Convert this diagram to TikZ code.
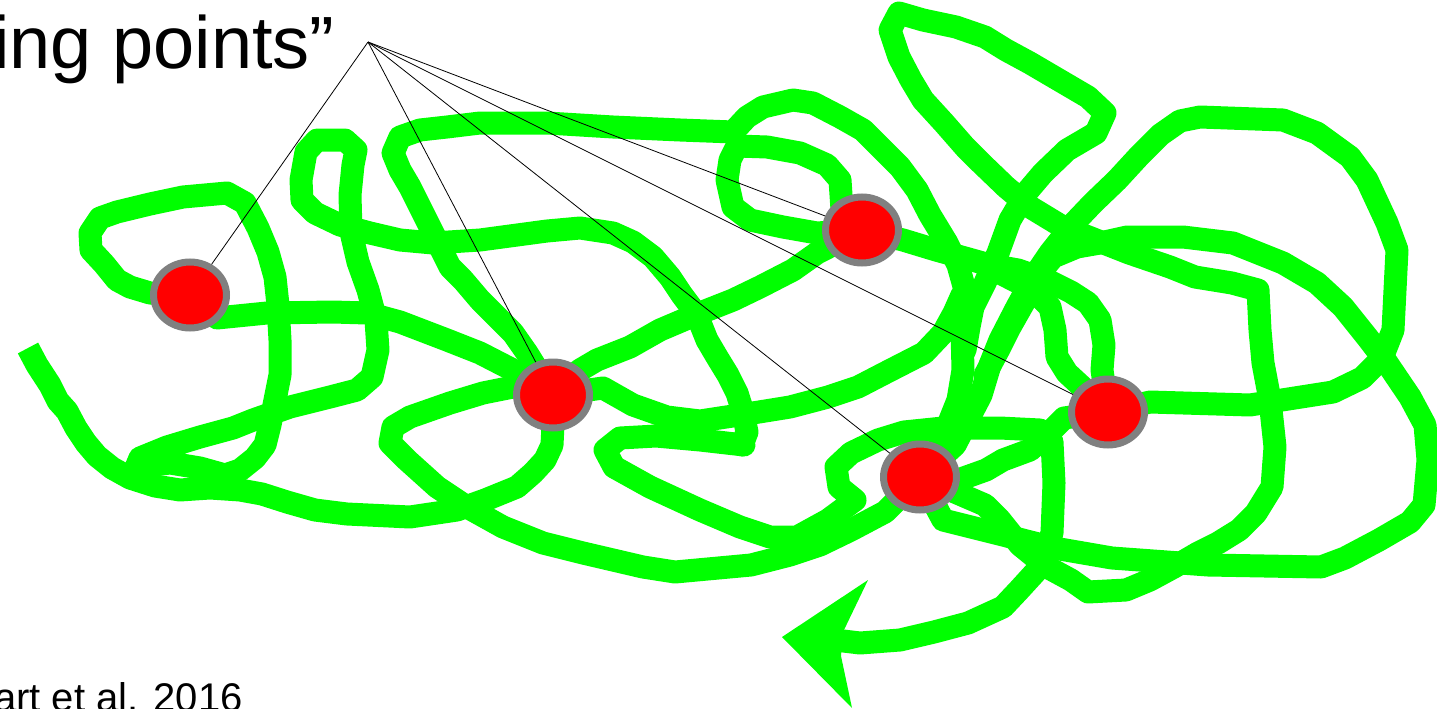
\documentclass[tikz,border=0pt]{standalone}
\usepackage{fontspec}
\setmainfont{Liberation Sans}
\usetikzlibrary{shapes.geometric}
\definecolor{scribblegreen}{RGB}{0,255,0}
\definecolor{rimgray}{RGB}{128,128,128}

\tikzstyle{scribble} = [draw=scribblegreen, line width=23pt, line join=round, line cap=round]
\tikzstyle{spot} = [ellipse, fill=red, draw=rimgray, line width=7pt, minimum width=73pt, minimum height=66pt, inner sep=0pt]
\tikzstyle{pointer} = [draw=black, line width=0.8pt]

\begin{document}
\begin{tikzpicture}[x=1pt, y=-1pt]
\clip (0,0) rectangle (1437,709);
\fill[white] (0,0) rectangle (1437,709);

% crossing points
\coordinate (p1) at (190,295);
\coordinate (p2) at (553,395);
\coordinate (p3) at (862,230);
\coordinate (p4) at (920,477);
\coordinate (p5) at (1108,412);

% the scribble
\draw[scribble, line cap=butt] (28,348) -- (37,365) -- (50,385) -- (58,401) -- (67,411) -- (76,428) -- (86,443)
    -- (97,456) -- (112,468) -- (130,478) -- (155,486) -- (180,490) -- (210,488) -- (240,490)
    -- (262,494) -- (287,502) -- (315,510) -- (347,514) -- (410,517) -- (457,510) -- (485,500)
    -- (517,487) -- (533,473) -- (545,460) -- (552,445) -- (553,425) -- (p2);
\draw[scribble] (p1) -- (150,293) -- (130,287) -- (117,280) -- (104,264) -- (91,250) -- (90,233)
    -- (100,218) -- (117,212) -- (150,204) -- (183,197) -- (227,193) -- (245,203) -- (258,228)
    -- (268,252) -- (275,277) -- (278,305) -- (280,340) -- (280,375) -- (275,400) -- (270,425)
    -- (265,445) -- (255,458) -- (240,470) -- (225,475) -- (200,468) -- (170,463) -- (145,466)
    -- (135,470) -- (140,458) -- (167,447) -- (200,437) -- (233,428) -- (253,420) -- (290,407)
    -- (330,397) -- (357,390) -- (372,377) -- (378,350) -- (376,320) -- (368,290) -- (358,262)
    -- (351,232) -- (350,195) -- (353,165) -- (356,150) -- (345,140) -- (317,140) -- (306,152)
    -- (301,180) -- (302,200) -- (315,213) -- (340,225) -- (370,233) -- (400,240) -- (433,243)
    -- (480,240) -- (547,231) -- (580,228) -- (613,233) -- (633,242) -- (653,257) -- (670,277)
    -- (682,295) -- (697,315) -- (707,340) -- (717,357) -- (728,375) -- (737,393) -- (743,412)
    -- (747,432) -- (742,445);
\draw[scribble] (p1) -- (217,318) -- (267,313) -- (333,312) -- (367,313) -- (400,322) -- (447,340)
    -- (480,353) -- (513,370) -- (537,382) -- (p2);
\draw[scribble] (p2) -- (603,388) -- (633,405) -- (667,417) -- (700,421) -- (759,412) -- (790,407)
    -- (828,397) -- (858,387) -- (885,373) -- (924,353) -- (943,333) -- (954,313) -- (962,295);
\draw[scribble] (p2) -- (527,353) -- (513,333) -- (497,317) -- (480,300) -- (463,280) -- (450,267)
    -- (440,247) -- (430,227) -- (420,207) -- (410,187) -- (400,170) -- (393,153) -- (400,137)
    -- (420,130) -- (447,127) -- (480,123) -- (547,123) -- (613,127) -- (680,130) -- (733,132)
    -- (747,117) -- (763,107) -- (793,100) -- (813,103) -- (840,117) -- (863,130) -- (880,147)
    -- (900,167) -- (917,190) -- (930,215) -- (947,243) -- (958,265) -- (965,290) -- (962,330)
    -- (963,370) -- (958,400) -- (948,425) -- (935,455) -- (p4);
\draw[scribble] (p3) -- (817,233) -- (783,227) -- (750,220) -- (733,207) -- (727,180) -- (730,160)
    -- (737,146) -- (767,147) -- (800,153) -- (827,165) -- (840,180) -- (842,210) -- (p3);
\draw[scribble] (p3) -- (817,253) -- (793,270) -- (760,287) -- (733,300) -- (700,313) -- (660,330)
    -- (630,347) -- (597,360) -- (580,370) -- (p2);
\draw[scribble] (p3) -- (903,240) -- (936,250) -- (965,258) -- (990,265) -- (1018,270) -- (1047,280)
    -- (1071,292) -- (1088,303) -- (1100,320) -- (1104,345) -- (1102,370) -- (p5);
\draw[scribble] (1000,273) -- (1033,290) -- (1050,307) -- (1055,330) -- (1057,357) -- (1067,373)
    -- (1080,385) -- (p5);
\draw[scribble] (p5) -- (1150,402) -- (1250,405) -- (1333,392) -- (1362,378) -- (1382,358) -- (1393,330)
    -- (1397,250) -- (1387,223) -- (1367,180) -- (1350,157) -- (1317,133) -- (1283,120) -- (1200,117)
    -- (1180,121) -- (1160,135) -- (1140,155) -- (1117,180) -- (1093,203) -- (1073,224) -- (1050,253)
    -- (1033,278) -- (1017,307) -- (1000,340) -- (990,365) -- (981,395) -- (968,420) -- (955,445)
    -- (p4);
\draw[scribble] (965,350) -- (969,327) -- (973,307) -- (985,283) -- (998,253) -- (1010,220) -- (1026,193)
    -- (1043,173) -- (1067,150) -- (1096,133) -- (1105,113) -- (1088,97) -- (1059,80) -- (1030,63)
    -- (1006,50) -- (985,37) -- (956,27) -- (923,20) -- (899,13) -- (890,30) -- (899,57) -- (911,80)
    -- (923,100) -- (944,123) -- (965,147) -- (981,163) -- (1006,187) -- (1030,207) -- (1063,227)
    -- (1096,240) -- (1129,253) -- (1170,267) -- (1195,277) -- (1232,283) -- (1258,290) -- (1260,330)
    -- (1263,363) -- (1270,400) -- (1275,447) -- (1272,487) -- (1256,513) -- (1239,530) -- (1218,543)
    -- (1198,553) -- (1174,567) -- (1150,580) -- (1126,590) -- (1088,592) -- (1071,580) -- (1047,567)
    -- (1020,545) -- (1000,520) -- (985,505) -- (p4);
\draw[scribble] (p4) -- (943,520) -- (1003,535) -- (1054,548) -- (1112,558) -- (1208,565) -- (1321,567)
    -- (1345,558) -- (1379,540) -- (1410,522) -- (1424,505) -- (1428,460) -- (1425,425) -- (1410,397)
    -- (1387,363) -- (1367,337) -- (1343,307) -- (1317,283) -- (1283,263) -- (1233,243) -- (1183,237)
    -- (1127,237) -- (1100,243) -- (1077,247) -- (1053,257) -- (1040,273) -- (1027,297) -- (1010,327)
    -- (1000,347) -- (985,375);
\draw[scribble] (p4) -- (958,480) -- (986,470) -- (1003,460) -- (1030,450) -- (1047,435) -- (1064,418)
    -- (p5);
\draw[scribble] (p2) -- (513,387) -- (483,393) -- (450,403) -- (410,417) -- (393,427) -- (390,443)
    -- (407,460) -- (437,487) -- (467,507) -- (503,527) -- (543,543) -- (583,553) -- (643,567)
    -- (675,572) -- (751,565) -- (790,555) -- (820,545) -- (851,530) -- (885,512) -- (p4);
\draw[scribble] (744,445) -- (700,440) -- (656,436) -- (620,438) -- (605,450) -- (614,467) -- (650,487)
    -- (700,510) -- (740,527) -- (770,537) -- (797,537) -- (828,520) -- (855,500) -- (839,487)
    -- (836,467) -- (851,453) -- (878,440) -- (904,432) -- (943,428) -- (1000,428) -- (1040,430)
    -- (1052,442) -- (1054,483) -- (1052,533) -- (1040,567) -- (1019,590) -- (1003,607) -- (968,623)
    -- (934,632) -- (900,640) -- (860,643) -- (835,640);
\fill[scribblegreen] (782,637) -- (868,580) -- (843,632) -- (841,656) -- (852,708) -- cycle;

% dots
\node[spot] (d1) at (p1) {};
\node[spot] (d2) at (p2) {};
\node[spot] (d3) at (p3) {};
\node[spot] (d4) at (p4) {};
\node[spot] (d5) at (p5) {};

% labels
\node[anchor=base west, inner sep=0pt, font=\fontsize{74}{80}\selectfont] (title) at (-7,68) {ing points”};
\node[anchor=base west, inner sep=0pt, font=\fontsize{40}{44}\selectfont] (cite) at (-6,711) {art et al. 2016};
\coordinate (hub) at (368,42);
\foreach \d in {d1,d2,d3,d4,d5}
    \draw[pointer] (hub) -- (\d);
\end{tikzpicture}
\end{document}
